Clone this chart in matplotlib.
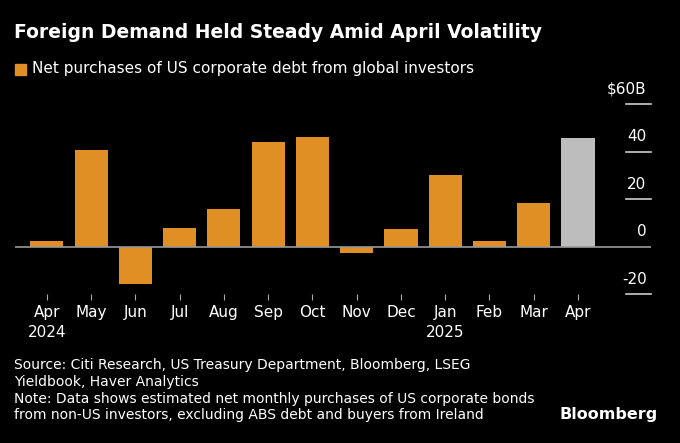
import matplotlib.pyplot as plt

months = ['Apr\n2024', 'May', 'Jun', 'Jul', 'Aug', 'Sep', 'Oct', 'Nov', 'Dec',
          'Jan\n2025', 'Feb', 'Mar', 'Apr']
values = [2.5, 40.8, -15.6, 7.6, 15.6, 43.8, 46.3, -2.9, 7.2, 30.3, 2.5, 18.5, 45.5]
yticks = [-20, 0, 20, 40, 60]
ylabels = ['-20', '0', '20', '40', '$60B']

W, H = 680, 443
fig = plt.figure(figsize=(6.8, 4.43), dpi=100, facecolor='black')
# axes placed in pixel coords: x 15..651, y 104..294 (60..-20)
ax = fig.add_axes([15 / W, 1 - 294 / H, (651 - 15) / W, (294 - 104) / H])
ax.set_facecolor('black')
colors = ['#e08f24'] * (len(values) - 1) + ['#bdbdbd']
xs = range(len(values))
ax.bar(xs, values, width=0.75, color=colors, zorder=2)
ax.set_xlim(-0.72, 13.65)
ax.set_ylim(-20, 60)
for s in ax.spines.values():
    s.set_visible(False)
ax.set_yticks([])
ax.set_xticks(list(xs))
ax.set_xticklabels(months, color='white', fontsize=11, linespacing=1.4)
ax.tick_params(axis='x', colors='#aaaaaa', length=4, pad=4, labelcolor='white')
ax.axhline(0, color='#999999', lw=1.2, zorder=3)
for t, lab in zip(yticks, ylabels):
    if t != 0:
        ax.plot([13.08, 13.65], [t, t], color='#cccccc', lw=1.2, clip_on=False)
    ax.text(13.55, t + 3, lab, color='white', fontsize=11, ha='right', va='bottom')

fig.text(14 / W, 1 - 33 / H, 'Foreign Demand Held Steady Amid April Volatility',
         color='white', fontsize=13.5, fontweight='bold', va='center')
fig.patches.append(plt.Rectangle((15 / W, 1 - 75 / H), 11 / W, 11 / H,
                                 transform=fig.transFigure, color='#e08f24'))
fig.text(32 / W, 1 - 69 / H, 'Net purchases of US corporate debt from global investors',
         color='white', fontsize=11, va='center')
fig.text(14 / W, 1 - 358 / H,
         'Source: Citi Research, US Treasury Department, Bloomberg, LSEG\n'
         'Yieldbook, Haver Analytics\n'
         'Note: Data shows estimated net monthly purchases of US corporate bonds\n'
         'from non-US investors, excluding ABS debt and buyers from Ireland',
         color='white', fontsize=10, va='top', linespacing=1.25)
fig.text(658 / W, 1 - 415 / H, 'Bloomberg', color='white', fontsize=11.5,
         fontweight='bold', ha='right', va='center')
fig.savefig('out.png', dpi=100, facecolor='black')
